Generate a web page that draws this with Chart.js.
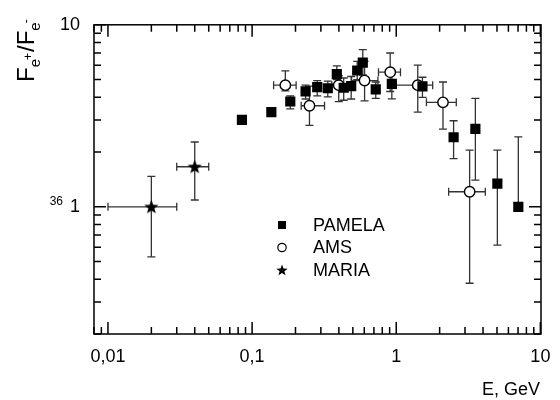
<!DOCTYPE html>
<html>
<head>
<meta charset="utf-8">
<script src="https://cdn.jsdelivr.net/npm/chart.js@4.4.0/dist/chart.umd.min.js"></script>
<style>
    html, body { margin: 0; padding: 0; background: #fff; }
    #wrap { width: 560px; height: 400px; }
</style>
</head>
<body>
<div id="wrap"><canvas id="ratioChart" width="560" height="400"></canvas></div>
<script>
// ----------------------------------------------------
// Data (E in GeV, ratio F_e+/F_e-)
// ----------------------------------------------------
const pamelaE    = [0.085, 0.136, 0.184, 0.235, 0.283, 0.335, 0.387, 0.432, 0.487, 0.536, 0.586, 0.721, 0.932, 1.52, 2.50, 3.54, 5.03, 7.03];
const pamelaR    = [3.00, 3.31, 3.79, 4.31, 4.55, 4.48, 5.36, 4.51, 4.60, 5.61, 6.19, 4.42, 4.74, 4.59, 2.41, 2.68, 1.34, 1.00];
const pamelaRLo  = [3.00, 3.31, 3.45, 3.91, 4.07, 4.02, 5.00, 3.85, 3.91, 5.00, 5.30, 3.94, 3.92, 3.99, 1.84, 1.40, 0.616, 1.00];
const pamelaRHi  = [3.00, 3.31, 4.07, 4.66, 4.94, 4.90, 5.94, 5.10, 5.20, 6.30, 7.30, 4.85, 5.60, 5.15, 2.97, 3.94, 2.05, 2.42];

const amsE       = [0.170, 0.250, 0.399, 0.603, 0.908, 1.41, 2.11, 3.23];
const amsR       = [4.66, 3.59, 4.66, 4.94, 5.49, 4.66, 3.75, 1.21];
const amsRLo     = [4.33, 2.80, 3.78, 3.82, 4.30, 3.31, 2.67, 0.38];
const amsRHi     = [5.58, 4.60, 5.25, 6.30, 7.00, 6.01, 4.85, 2.05];
const amsELo     = [0.141, 0.219, 0.357, 0.490, 0.753, 1.00, 1.62, 2.31];
const amsEHi     = [0.202, 0.318, 0.459, 0.746, 1.07, 1.79, 2.61, 4.15];

const mariaE     = [0.02, 0.04];
const mariaR     = [1.00, 1.66];
const mariaRLo   = [0.53, 1.09];
const mariaRHi   = [1.47, 2.27];
const mariaELo   = [0.01, 0.03];
const mariaEHi   = [0.03, 0.05];

// Axis ranges and labelled ticks
const xRange = [0.008, 10.1];
const yRange = [0.2, 10];
const xTickLabels = { '-2': '0,01', '-1': '0,1', '0': '1', '1': '10' };
const yTickLabels = { '0': '1', '1': '10' };

const FONT = "'Liberation Sans', Arial, sans-serif";

// Filled five-point star used as point style
function makeStar(r) {
    const c = document.createElement('canvas');
    const s = Math.ceil(r * 2 + 2);
    c.width = s; c.height = s;
    const g = c.getContext('2d');
    g.beginPath();
    for (let i = 0; i < 10; i++) {
        const rad = i % 2 === 0 ? r : r * 0.42;
        const a = -Math.PI / 2 + i * Math.PI / 5;
        g.lineTo(s / 2 + rad * Math.cos(a), s / 2 + 0.5 + rad * Math.sin(a));
    }
    g.closePath();
    g.fillStyle = '#000';
    g.fill();
    return c;
}
const starBig = makeStar(7.5);
const starSmall = makeStar(6);

const toPoints = (xs, ys) => xs.map((v, i) => ({ x: v, y: ys[i] }));

// Decade check helper
function decadeOf(v) {
    const e = Math.log10(v);
    return Math.abs(e - Math.round(e)) < 1e-6 ? Math.round(e) : null;
}

// ----------------------------------------------------
// Plugins: error bars, frame with inward ticks, texts, legend
// ----------------------------------------------------
const errorBars = {
    id: 'errorBars',
    beforeDatasetsDraw(chart) {
        const { ctx, scales: { x, y } } = chart;
        const cap = 4;
        ctx.save();
        ctx.strokeStyle = '#333';
        ctx.lineWidth = 1.3;
        chart.data.datasets.forEach(ds => {
            const err = ds.errors || {};
            ds.data.forEach((p, i) => {
                const px = x.getPixelForValue(p.x);
                const py = y.getPixelForValue(p.y);
                ctx.beginPath();
                if (err.yLo) {
                    const lo = y.getPixelForValue(err.yLo[i]);
                    const hi = y.getPixelForValue(err.yHi[i]);
                    ctx.moveTo(px, lo); ctx.lineTo(px, hi);
                    if (Math.abs(lo - py) > 1) { ctx.moveTo(px - cap, lo); ctx.lineTo(px + cap, lo); }
                    if (Math.abs(hi - py) > 1) { ctx.moveTo(px - cap, hi); ctx.lineTo(px + cap, hi); }
                }
                if (err.xLo) {
                    const lo = x.getPixelForValue(err.xLo[i]);
                    const hi = x.getPixelForValue(err.xHi[i]);
                    ctx.moveTo(lo, py); ctx.lineTo(hi, py);
                    ctx.moveTo(lo, py - cap); ctx.lineTo(lo, py + cap);
                    ctx.moveTo(hi, py - cap); ctx.lineTo(hi, py + cap);
                }
                ctx.stroke();
            });
        });
        ctx.restore();
    }
};

const frameAndTicks = {
    id: 'frameAndTicks',
    afterDraw(chart) {
        const { ctx, chartArea: a, scales } = chart;
        ctx.save();
        ctx.strokeStyle = '#000';
        ctx.lineWidth = 1.5;
        ctx.strokeRect(a.left, a.top, a.right - a.left, a.bottom - a.top);
        ctx.beginPath();
        ['x', 'y'].forEach(key => {
            const s = scales[key];
            s.ticks.forEach(t => {
                const v = t.value;
                const exp = Math.floor(Math.log10(v) + 1e-9);
                const sig = v / Math.pow(10, exp);
                if (Math.abs(sig - Math.round(sig)) > 1e-6) return;
                const len = Math.round(sig) === 1 || Math.round(sig) === 10 ? 12 : 7;
                const p = s.getPixelForValue(v);
                if (key === 'x') {
                    ctx.moveTo(p, a.bottom); ctx.lineTo(p, a.bottom - len);
                    ctx.moveTo(p, a.top); ctx.lineTo(p, a.top + len);
                } else {
                    ctx.moveTo(a.left, p); ctx.lineTo(a.left + len, p);
                    ctx.moveTo(a.right, p); ctx.lineTo(a.right - len, p);
                }
            });
        });
        ctx.stroke();

        // Axis titles and the stray "36" beside the unit label
        ctx.fillStyle = '#000';
        ctx.textAlign = 'right';
        ctx.textBaseline = 'alphabetic';
        ctx.font = '18px ' + FONT;
        ctx.fillText('E, GeV', 540, 395);
        ctx.font = '12px ' + FONT;
        ctx.fillText('36', 63, 205);

        // Y title: F_{e+}/F_{e-}, rotated
        ctx.translate(34, 82);
        ctx.rotate(-Math.PI / 2);
        ctx.textAlign = 'left';
        let cx = 0;
        const piece = (txt, size, dy) => {
            ctx.font = size + 'px ' + FONT;
            ctx.fillText(txt, cx, dy);
            cx += ctx.measureText(txt).width;
        };
        piece('F', 24, 0);
        piece('e', 15, 6);
        cx -= 1; piece('+', 12, -2);
        cx += 1; piece('/', 24, 0);
        piece('F', 24, 0);
        piece('e', 15, 6);
        cx -= 1; piece('-', 12, -4);
        ctx.restore();

        // Legend inside the plot area
        const items = [
            { label: 'PAMELA', draw: (x, y) => ctx.fillRect(x - 4, y - 4, 8, 8) },
            { label: 'AMS', draw: (x, y) => { ctx.beginPath(); ctx.arc(x, y, 4.2, 0, Math.PI * 2); ctx.stroke(); } },
            { label: 'MARIA', draw: (x, y) => ctx.drawImage(starSmall, x - starSmall.width / 2, y - starSmall.height / 2) }
        ];
        ctx.save();
        ctx.fillStyle = '#000';
        ctx.strokeStyle = '#000';
        ctx.lineWidth = 1.2;
        ctx.font = '18px ' + FONT;
        ctx.textBaseline = 'middle';
        items.forEach((it, i) => {
            const y = 225 + i * 22.5;
            it.draw(282, y);
            ctx.fillText(it.label, 313, y + 1);
        });
        ctx.restore();
    }
};

// ----------------------------------------------------
// Chart
// ----------------------------------------------------
const ctx = document.getElementById('ratioChart').getContext('2d');
new Chart(ctx, {
    type: 'scatter',
    data: {
        datasets: [
            {
                label: 'MARIA',
                data: toPoints(mariaE, mariaR),
                errors: { yLo: mariaRLo, yHi: mariaRHi, xLo: mariaELo, xHi: mariaEHi },
                pointStyle: starBig,
                pointRadius: 7
            },
            {
                label: 'PAMELA',
                data: toPoints(pamelaE, pamelaR),
                errors: { yLo: pamelaRLo, yHi: pamelaRHi },
                pointStyle: 'rect',
                pointRadius: 7.2,
                backgroundColor: '#000',
                borderColor: '#000',
                borderWidth: 0
            },
            {
                label: 'AMS',
                data: toPoints(amsE, amsR),
                errors: { yLo: amsRLo, yHi: amsRHi, xLo: amsELo, xHi: amsEHi },
                pointStyle: 'circle',
                pointRadius: 5.2,
                backgroundColor: '#fff',
                borderColor: '#000',
                borderWidth: 1.4
            }
        ]
    },
    options: {
        responsive: false,
        animation: false,
        layout: { padding: { top: 17, right: 19, left: 0, bottom: 0 } },
        plugins: { legend: { display: false }, tooltip: { enabled: false } },
        scales: {
            x: {
                type: 'logarithmic',
                min: xRange[0],
                max: xRange[1],
                grid: { display: false, drawTicks: false },
                border: { display: false },
                ticks: {
                    autoSkip: false,
                    maxRotation: 0,
                    padding: 12,
                    color: '#000',
                    font: { family: FONT, size: 18 },
                    callback: v => {
                        const d = decadeOf(v);
                        return d !== null && xTickLabels[d] !== undefined ? xTickLabels[d] : '';
                    }
                },
                afterFit(s) { s.height = 66; }
            },
            y: {
                type: 'logarithmic',
                min: yRange[0],
                max: yRange[1],
                grid: { display: false, drawTicks: false },
                border: { display: false },
                ticks: {
                    autoSkip: false,
                    padding: 14,
                    color: '#000',
                    font: { family: FONT, size: 18 },
                    callback: v => {
                        const d = decadeOf(v);
                        return d !== null && yTickLabels[d] !== undefined ? yTickLabels[d] : '';
                    }
                },
                afterFit(s) { s.width = 94; }
            }
        }
    },
    plugins: [errorBars, frameAndTicks]
});
</script>
</body>
</html>
